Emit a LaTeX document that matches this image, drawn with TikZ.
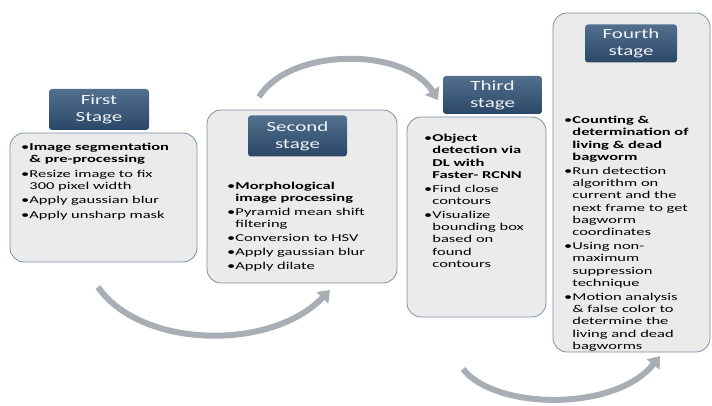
\documentclass[tikz,border=0pt]{standalone}
\usepackage{fontspec}
\setmainfont[FakeStretch=1.5]{Carlito}
\newfontfamily\bodyfont[FakeStretch=1.57]{Carlito}
\usepackage{tikz}
\usetikzlibrary{arrows.meta}

\definecolor{headtop}{HTML}{536F8E}
\definecolor{headbot}{HTML}{2B4767}
\definecolor{boxfill}{HTML}{EBEBEB}
\definecolor{boxline}{HTML}{7F90A5}
\definecolor{arrowgray}{HTML}{A9AEB4}

\newcommand{\bul}{\textbullet}
\newcommand{\ind}{\phantom{\textbullet}}

\begin{document}
\begin{tikzpicture}[x=1pt, y=-1pt,
    stage box/.style={draw=boxline, fill=boxfill, line width=0.8pt, rounded corners=14pt},
    stage head/.style={rounded corners=3pt, top color=headtop, bottom color=headbot,
        text=white!92!headtop, align=center, inner sep=0pt,
        font=\fontsize{14}{17}\selectfont},
    stage text/.style={anchor=north west, inner sep=0pt, align=left,
        font=\bodyfont\fontsize{10.5}{12.3}\selectfont},
    flow arrow/.style={draw=arrowgray, line width=6pt,
        -{Triangle[width=16pt, length=11pt]}}]
    \useasboundingbox (0,0) rectangle (712,406);

    \node[stage box, minimum width=187pt, minimum height=129pt] (box1) at (103.5,197.5) {};
    \node[stage box, minimum width=190pt, minimum height=173pt] (box2) at (302,196.5) {};
    \node[stage box, minimum width=139pt, minimum height=200pt] (box3) at (476.5,217) {};
    \node[stage box, minimum width=157pt, minimum height=339pt] (box4) at (631.5,182.5) {};

    \node[stage head, minimum width=100pt, minimum height=41pt] (head1) at (99,109.5) {First\\Stage};
    \node[stage head, minimum width=99pt, minimum height=41pt] (head2) at (297.5,136) {Second\\stage};
    \node[stage head, minimum width=99pt, minimum height=38pt] (head3) at (492.5,95) {Third\\stage};
    \node[stage head, minimum width=92pt, minimum height=38pt] (head4) at (631,43.5) {Fourth\\stage};

    \node[stage text] (text1) at (21,143) {%
        \bul\textbf{Image segmentation}\\
        \ind\textbf{\& pre-processing}\\[2pt]
        \bul Resize image to fix\\
        \ind 300 pixel width\\[2pt]
        \bul Apply gaussian blur\\[2pt]
        \bul Apply unsharp mask};
    \node[stage text] (text2) at (227,182) {%
        \bul\textbf{Morphological}\\
        \ind\textbf{image processing}\\[1.5pt]
        \bul Pyramid mean shift\\
        \ind filtering\\[1.5pt]
        \bul Conversion to HSV\\[1.5pt]
        \bul Apply gaussian blur\\[1.5pt]
        \bul Apply dilate};
    \node[stage text] (text3) at (424,134) {%
        \bul\textbf{Object}\\
        \ind\textbf{detection via}\\
        \ind\textbf{DL with}\\
        \ind\textbf{Faster- RCNN}\\[1.5pt]
        \bul Find close\\
        \ind contours\\[1.5pt]
        \bul Visualize\\
        \ind bounding box\\
        \ind based on\\
        \ind found\\
        \ind contours};
    \node[stage text] (text4) at (564,116) {%
        \bul\textbf{Counting \&}\\
        \ind\textbf{determination of}\\
        \ind\textbf{living \& dead}\\
        \ind\textbf{bagworm}\\[1.5pt]
        \bul Run detection\\
        \ind algorithm on\\
        \ind current and the\\
        \ind next frame to get\\
        \ind bagworm\\
        \ind coordinates\\[1.5pt]
        \bul Using non-\\
        \ind maximum\\
        \ind suppression\\
        \ind technique\\[1.5pt]
        \bul Motion analysis\\
        \ind \& false color to\\
        \ind determine the\\
        \ind living and dead\\
        \ind bagworms};

    \coordinate (a1 from) at (98,287);
    \coordinate (a1 to) at (330,290);
    \coordinate (a2 from) at (259,97);
    \coordinate (a2 to) at (438,100);
    \coordinate (a3 from) at (463,369);
    \coordinate (a3 to) at (660,356);

    \draw[flow arrow] (a1 from) .. controls (140,348) and (270,352) .. (a1 to);
    \draw[flow arrow] (a2 from) .. controls (290,47) and (405,47) .. (a2 to);
    \draw[flow arrow] (a3 from) .. controls (495,410) and (615,412) .. (a3 to);
\end{tikzpicture}
\end{document}
